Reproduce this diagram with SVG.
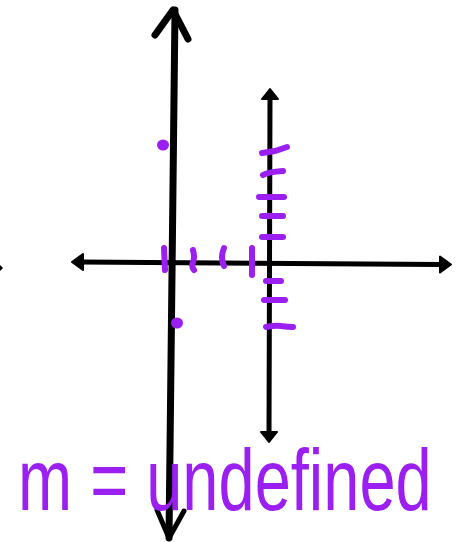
<svg xmlns="http://www.w3.org/2000/svg" width="462" height="542" viewBox="0 0 462 542">
<style>
.ax{stroke:#000;fill:none;stroke-linecap:round;stroke-linejoin:round}
.p{stroke:#9b1ff0;stroke-width:6;stroke-linecap:round;fill:none}
.dot{fill:#9b1ff0}
.lbl{font-family:"Liberation Sans",Arial,sans-serif;fill:#9b1ff0}
</style>
<rect width="462" height="542" fill="#fff"/>
<g id="connectors">
<line class="ax" x1="80" y1="262" x2="440" y2="264.5" stroke-width="5"/>
<path d="M72 262 L83 254 L83 270 Z" fill="#000" stroke="#000" stroke-width="2" stroke-linejoin="round"/>
<path d="M451 264.5 L440 256.5 L440 272.5 Z" fill="#000" stroke="#000" stroke-width="2" stroke-linejoin="round"/>
<path d="M-4 261 L3 268 L-4 275 Z" fill="#000"/>
<line class="ax" x1="270" y1="98" x2="269" y2="432" stroke-width="5"/>
<path d="M270 89 L262 99 L278 99 Z" fill="#000" stroke="#000" stroke-width="2" stroke-linejoin="round"/>
<path d="M269 442 L261 432 L277 432 Z" fill="#000" stroke="#000" stroke-width="2" stroke-linejoin="round"/>
<line class="ax" x1="175" y1="10" x2="169" y2="538" stroke-width="7"/>
<path class="ax" d="M155 35 L173 10 L188 39" stroke-width="7"/>
<path class="ax" d="M157 510 L169 538 L184 511" stroke-width="5"/>
</g>
<g id="ticks">
<line class="p" x1="164" y1="248" x2="165" y2="270"/>
<path class="p" d="M193 250 Q195 258 193 262 Q191 266 194 270"/>
<path class="p" d="M224 248 Q220 258 224 266"/>
<line class="p" x1="252" y1="248" x2="252" y2="275"/>
<path class="p" d="M262 153 L275 151 L287 147"/>
<path class="p" d="M263 175 Q268 172 283 171"/>
<line class="p" x1="259" y1="197" x2="284" y2="197"/>
<line class="p" x1="262" y1="216" x2="283" y2="216"/>
<line class="p" x1="262" y1="237" x2="283" y2="237"/>
<line class="p" x1="266" y1="281" x2="281" y2="281"/>
<line class="p" x1="264" y1="300" x2="285" y2="300"/>
<path class="p" d="M266 327 Q276 325 281 326 Q288 327 293 327"/>
</g>
<g id="points">
<ellipse class="dot" cx="163" cy="145" rx="6" ry="5.5"/>
<ellipse class="dot" cx="177" cy="323" rx="6" ry="5.5"/>
</g>
<g id="label">
<text class="lbl" transform="translate(18,510) scale(1,1.35)" x="0" y="0" font-size="65">m = undefined</text>
</g>
</svg>
